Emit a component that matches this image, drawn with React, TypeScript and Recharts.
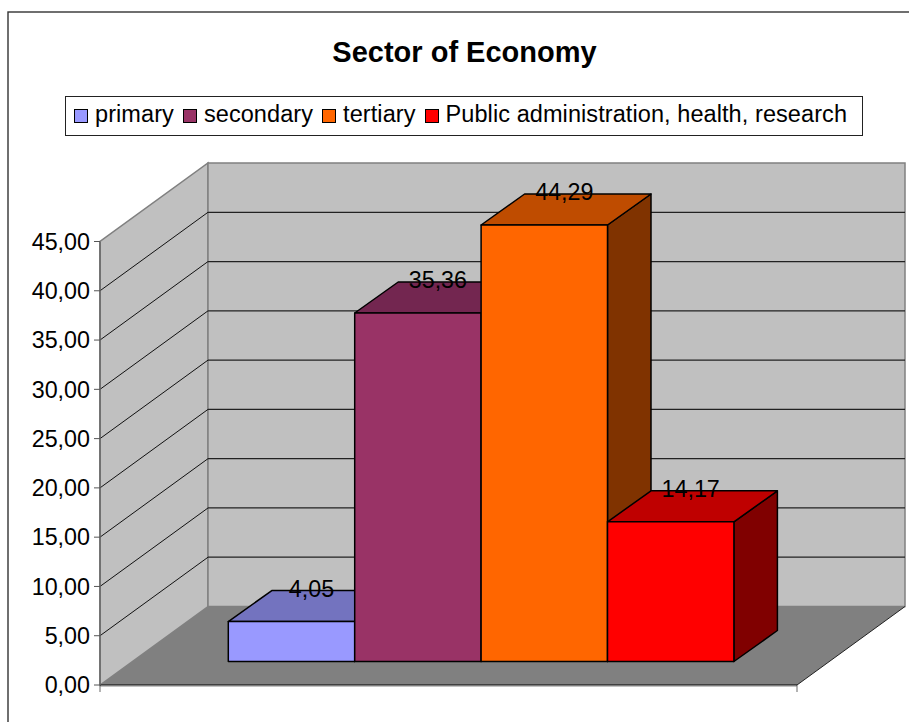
import React from "react";
import { BarChart, Bar, XAxis, YAxis, ReferenceArea, ReferenceLine, LabelList, Legend } from "recharts";

const TITLE = "Sector of Economy";
const seriesNames = ["primary", "secondary", "tertiary", "Public administration, health, research"];
const seriesKeys = ["primary", "secondary", "tertiary", "public"];
const seriesValues = [4.05, 35.36, 44.29, 14.17];
const seriesColors = ["#9999FF", "#993366", "#FF6600", "#FF0000"];
const topColors = ["#7373BF", "#732650", "#BF4C00", "#BF0000"];
const sideColors = ["#4D4D80", "#4D1A33", "#803300", "#800000"];
const yTicks = [0, 5, 10, 15, 20, 25, 30, 35, 40, 45];
const category = [""];

const data = category.map((c) => {
  const row: Record<string, any> = { category: c };
  seriesKeys.forEach((k, i) => (row[k] = seriesValues[i]));
  return row;
});

const fmt = (v: number) => v.toFixed(2).replace(".", ",");
const FONT = "'Liberation Sans', Arial, sans-serif";

// 3D projection constants
const WALL_DX = 108;
const WALL_DY = -78.5;
const BAR_DX = 43.5;
const BAR_DY = -31;
const SHIFT_X = 32.3;
const SHIFT_Y = -23.5;

const Bar3D = (idx: number) => (props: any) => {
  const { x, y, width, height } = props;
  const l = x + SHIFT_X;
  const r = l + width;
  const t = y + SHIFT_Y;
  const b = t + height;
  const common = { stroke: "#000", strokeWidth: 1.5, strokeLinejoin: "round" as const };
  return (
    <g>
      <polygon points={`${r},${t} ${r + BAR_DX},${t + BAR_DY} ${r + BAR_DX},${b + BAR_DY} ${r},${b}`} fill={sideColors[idx]} {...common} />
      <polygon points={`${l},${t} ${l + BAR_DX},${t + BAR_DY} ${r + BAR_DX},${t + BAR_DY} ${r},${t}`} fill={topColors[idx]} {...common} />
      <rect x={l} y={t} width={width} height={height} fill={seriesColors[idx]} {...common} />
    </g>
  );
};

const DataLabel = (props: any) => {
  const { x, y, width, value } = props;
  return (
    <text x={x + width / 2 + SHIFT_X + 20} y={y + SHIFT_Y - 24.7} textAnchor="middle" fontFamily={FONT} fontSize={23.3} fill="#000">
      {fmt(value)}
    </text>
  );
};

const Walls = (props: any) => {
  const { x, y, width, height } = props;
  const b = y + height;
  const R = x + width;
  return (
    <g>
      <polygon points={`${x},${b} ${x + WALL_DX},${b + WALL_DY} ${R + WALL_DX},${b + WALL_DY} ${R},${b}`} fill="#808080" />
      <polygon points={`${x},${b} ${x},${y} ${x + WALL_DX},${y + WALL_DY} ${x + WALL_DX},${b + WALL_DY}`} fill="#C0C0C0" stroke="#808080" strokeWidth={1.5} />
      <rect x={x + WALL_DX} y={y + WALL_DY} width={width} height={height} fill="#C0C0C0" stroke="#808080" strokeWidth={1.5} />
      <line x1={R} y1={b} x2={R + WALL_DX} y2={b + WALL_DY} stroke="#222" strokeWidth={1} />
      <line x1={x} y1={b + 1.4} x2={R} y2={b + 1.4} stroke="#bbb" strokeWidth={1} />
      <line x1={R} y1={b} x2={R} y2={b + 7} stroke="#808080" strokeWidth={1.2} />
      <line x1={x} y1={b} x2={x} y2={b + 7} stroke="#808080" strokeWidth={1.2} />
      <line x1={x} y1={b} x2={R} y2={b} stroke="#000" strokeWidth={1} />
    </g>
  );
};

const GridLine = (props: any) => {
  const { x1, y1, x2, y2 } = props;
  return (
    <g>
      <line x1={x1} y1={y1} x2={x1 + WALL_DX} y2={y1 + WALL_DY} stroke="#111" strokeWidth={1} />
      <line x1={x1 + WALL_DX} y1={y1 + WALL_DY} x2={x2 + WALL_DX} y2={y2 + WALL_DY} stroke="#222" strokeWidth={1.2} />
    </g>
  );
};

const LegendBox = ({ payload }: any) => (
  <div
    style={{
      boxSizing: "border-box",
      width: 798,
      height: 40,
      border: "1px solid #222",
      background: "#fff",
      display: "flex",
      alignItems: "center",
      paddingLeft: 8,
      fontFamily: FONT,
      fontSize: 23.5,
      letterSpacing: 0.08,
      color: "#000",
    }}
  >
    {(payload || []).map((e: any, i: number) => (
      <span key={i} style={{ display: "inline-flex", alignItems: "center", marginRight: 9, whiteSpace: "nowrap" }}>
        <span style={{ display: "inline-block", boxSizing: "border-box", width: 14, height: 14, background: e.color, border: "1.4px solid #000", marginRight: 7 }} />
        <span style={{ position: "relative", top: -1.5 }}>{e.value}</span>
      </span>
    ))}
  </div>
);

export default function App() {
  return (
    <div style={{ position: "absolute", left: 0, top: 0, width: 909, height: 722, overflow: "hidden", background: "#fff" }}>
      <BarChart
        width={909}
        height={722}
        data={data}
        margin={{ top: 241.5, right: 112, bottom: 37, left: 0 }}
        barGap={0}
        barCategoryGap={0}
        barSize={126.4}
      >
        <rect x={8} y={12} width={1200} height={1200} fill="none" stroke="#333" strokeWidth={1.4} />
        <text x={464.5} y={62} textAnchor="middle" fontFamily={FONT} fontSize={29} fontWeight="bold" fill="#000">
          {TITLE}
        </text>
        <XAxis dataKey="category" hide />
        <YAxis
          width={100}
          domain={[0, 45]}
          ticks={yTicks}
          interval={0}
          tickFormatter={fmt}
          tickSize={6}
          tickMargin={4}
          tick={{ fontFamily: FONT, fontSize: 23.3, fill: "#000" }}
          stroke="#666"
          axisLine={{ stroke: "#666", strokeWidth: 1.5 }}
          tickLine={{ stroke: "#555", strokeWidth: 1 }}
        />
        <ReferenceArea y1={0} y2={45} shape={<Walls />} zIndex={-10} ifOverflow="visible" />
        {yTicks.slice(1, -1).map((v) => (
          <ReferenceLine key={v} y={v} shape={<GridLine />} zIndex={-5} ifOverflow="visible" />
        ))}
        {seriesKeys.map((k, i) => (
          <Bar key={k} dataKey={k} name={seriesNames[i]} fill={seriesColors[i]} isAnimationActive={false} shape={Bar3D(i)}>
            <LabelList dataKey={k} content={<DataLabel />} />
          </Bar>
        ))}
        <Legend
          layout="horizontal"
          verticalAlign="middle"
          align="center"
          itemSorter={null}
          content={<LegendBox />}
          wrapperStyle={{ position: "absolute", left: 65, top: 96, width: 798, height: 40, bottom: "auto", right: "auto", margin: 0 }}
        />
      </BarChart>
    </div>
  );
}
